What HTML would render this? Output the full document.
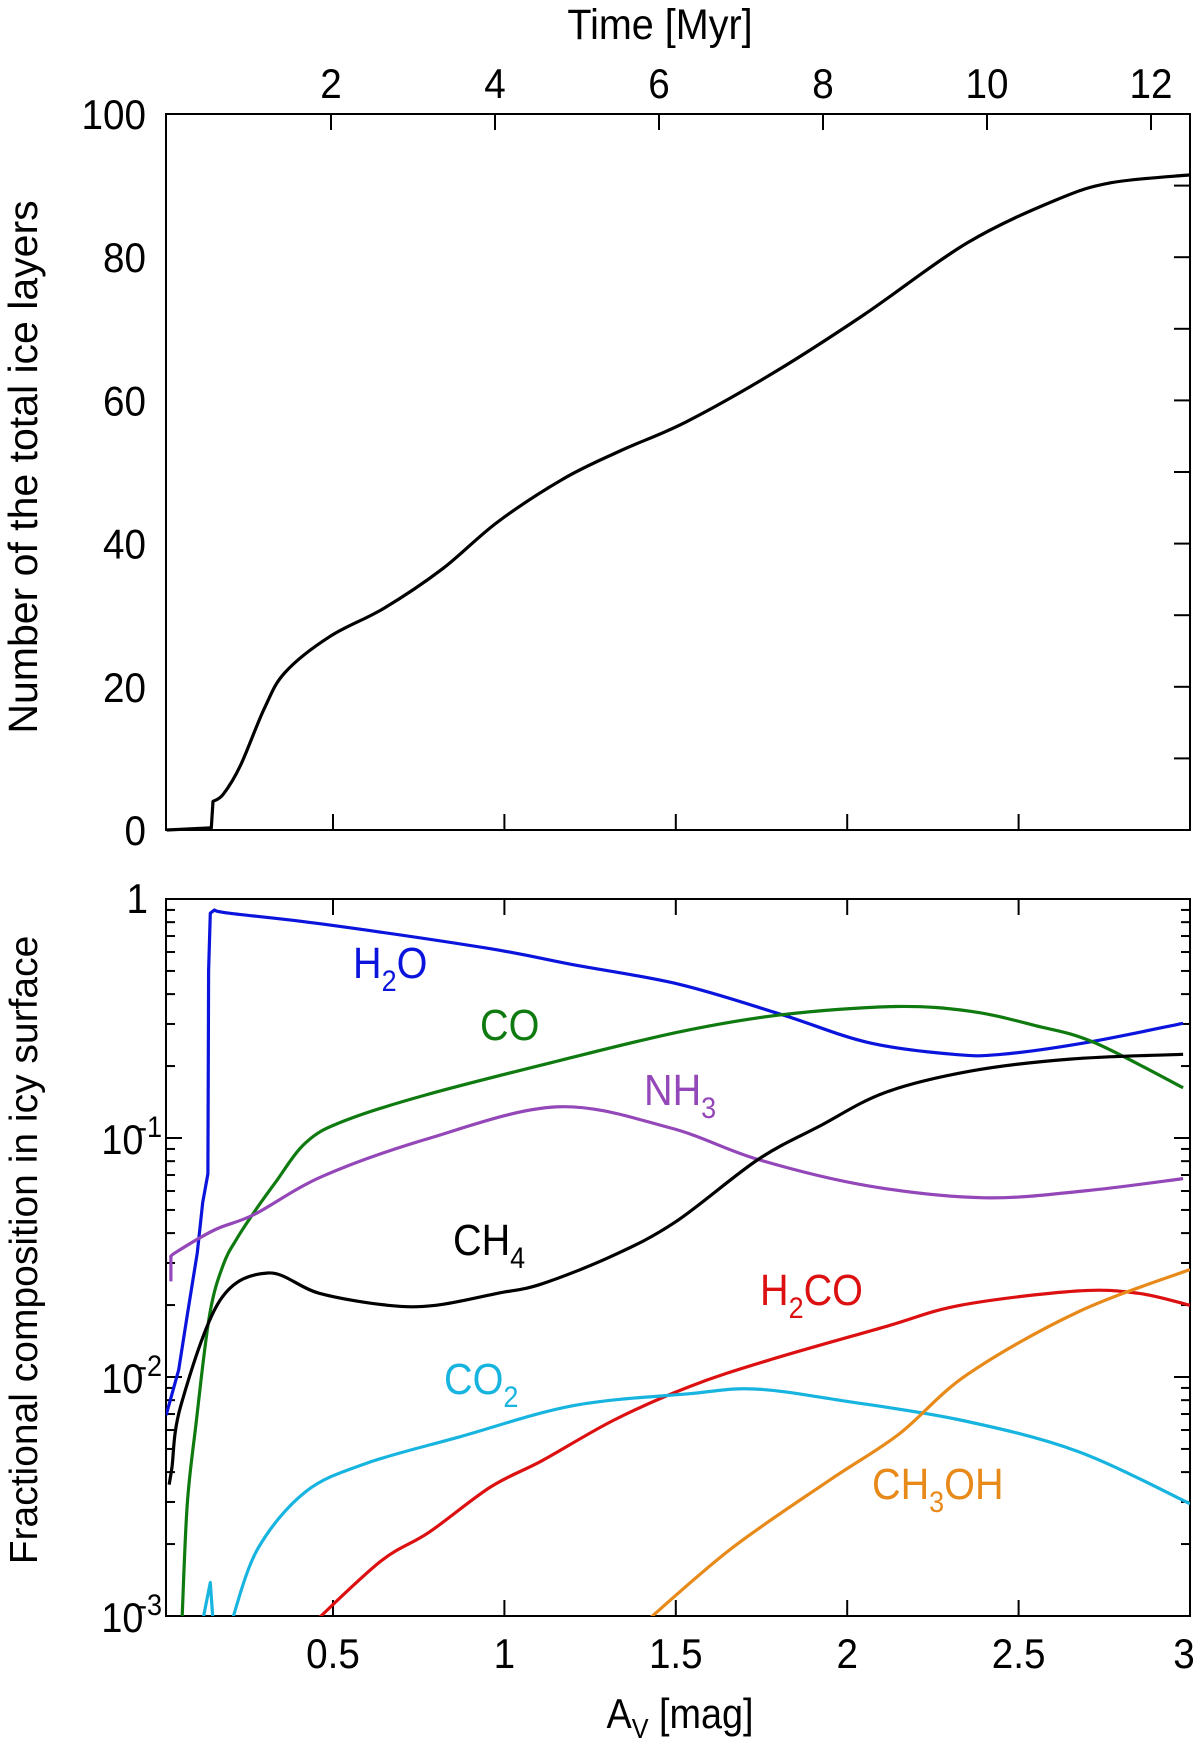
<!DOCTYPE html>
<html><head><meta charset="utf-8"><style>
html,body{margin:0;padding:0;background:#fff;}
svg{display:block;}
text{font-family:"Liberation Sans",Arial,sans-serif;}
</style></head><body>
<svg id="chart" width="1200" height="1746" viewBox="0 0 1200 1746" xmlns="http://www.w3.org/2000/svg">
<g id="topPanel"></g>
<g id="botPanel"></g>
</svg>
<script>
// ---- data: top panel (A_V vs number of layers) ----
const layersAv = [0.015,0.145,0.15,0.18,0.23,0.3,0.36,0.49,0.65,0.82,0.98,1.17,1.34,1.53,1.79,2.05,2.35,2.61,2.77,3.0];
const layersVal = [0,0.3,4,5,9,17,22,27,31,36.5,43,49,53,57,64,72,82,88,90.4,91.5];
const layerTicks = [0,20,40,60,80,100];
const timeTicks = [2,4,6,8,10,12];
const avTicks = [0.5,1,1.5,2,2.5,3];
// ---- data: bottom panel (log10 fractional composition) ----
const h2oAv = [0.013,0.05,0.075,0.104,0.12,0.135,0.137,0.142,0.154,0.2,0.47,0.95,1.2,1.51,1.81,2.06,2.31,2.45,2.7,2.98];
const h2oLog = [-2.16,-1.97,-1.74,-1.48,-1.27,-1.15,-0.3,-0.06,-0.046,-0.06,-0.105,-0.206,-0.275,-0.357,-0.484,-0.6,-0.65,-0.65,-0.6,-0.52];
const coAv = [0.06,0.075,0.1,0.14,0.18,0.22,0.27,0.33,0.42,0.53,0.77,1.15,1.51,1.81,2.14,2.36,2.55,2.72,2.98];
const coLog = [-3,-2.53,-2.2,-1.74,-1.53,-1.42,-1.31,-1.19,-1.02,-0.93,-0.82,-0.68,-0.556,-0.484,-0.45,-0.47,-0.53,-0.6,-0.79];
const nh3Av = [0.027,0.027,0.04,0.154,0.27,0.47,0.77,1.15,1.48,1.74,2.06,2.4,2.7,2.98];
const nh3Log = [-1.6,-1.5,-1.48,-1.385,-1.32,-1.16,-1.006,-0.87,-0.956,-1.09,-1.2,-1.25,-1.22,-1.17];
const ch4Av = [0.022,0.03,0.056,0.17,0.31,0.46,0.66,0.8,0.98,1.11,1.32,1.5,1.74,1.92,2.11,2.36,2.65,2.98];
const ch4Log = [-2.45,-2.38,-2.12,-1.68,-1.565,-1.65,-1.70,-1.70,-1.65,-1.61,-1.49,-1.35,-1.09,-0.95,-0.81,-0.72,-0.67,-0.65];
const h2coAv = [0.45,0.64,0.78,0.96,1.11,1.32,1.54,1.77,2.11,2.33,2.67,2.85,3.0];
const h2coLog = [-3.02,-2.77,-2.65,-2.46,-2.35,-2.18,-2.04,-1.93,-1.79,-1.70,-1.64,-1.65,-1.70];
const co2Av = [0.205,0.28,0.42,0.6,0.87,1.2,1.54,1.73,1.99,2.33,2.67,3.0];
const co2Log = [-3.02,-2.72,-2.48,-2.36,-2.25,-2.12,-2.07,-2.05,-2.10,-2.18,-2.31,-2.53];
const co2SpikeAv = [0.12,0.142,0.15];
const co2SpikeLog = [-3.02,-2.86,-3.02];
const ch3ohAv = [1.40,1.66,1.95,2.15,2.35,2.67,3.0];
const ch3ohLog = [-3.04,-2.72,-2.43,-2.24,-1.99,-1.73,-1.55];
const logTicks = [0,-1,-2,-3];

const NS='http://www.w3.org/2000/svg';
const L=166, R=1190;
const xA = a => 161.6 + 342.8*a;
const xT = t => 167 + 82*t;
const T0=114, T1=830;
const yL = v => T1 - (T1-T0)*v/100;
const B0=899, B1=1616;
const yG = lg => B0 + (B1-B0)*(-lg)/3;

function mk(parent, tag, attrs){const e=document.createElementNS(NS,tag);for(const k in attrs)e.setAttribute(k,attrs[k]);parent.appendChild(e);return e;}
function txt(parent,x,y,s,size,anchor,sx){
  const t=mk(parent,'text',{transform:`translate(${x},${y}) scale(${sx||0.92},1)`,'font-size':size,'text-anchor':anchor||'middle',fill:'#000'});
  t.textContent=s;return t;}
function tsp(parent,s,attrs){const e=mk(parent,'tspan',attrs||{});e.textContent=s;return e;}
// smoothFrom: index from which Catmull-Rom smoothing applies (Infinity = straight lines)
function path(parent, xs, ys, fx, fy, color, w, smoothFrom){
  const P=xs.map((x,i)=>[fx(x),fy(ys[i])]);
  let d='M'+P[0][0].toFixed(1)+','+P[0][1].toFixed(1);
  for(let i=0;i<P.length-1;i++){
    if(i<smoothFrom){d+='L'+P[i+1][0].toFixed(1)+','+P[i+1][1].toFixed(1);continue;}
    const p0=(i-1>=smoothFrom?P[i-1]:P[i]),p1=P[i],p2=P[i+1],p3=P[i+2]||P[i+1],k=1/6;
    const c1=[p1[0]+(p2[0]-p0[0])*k,p1[1]+(p2[1]-p0[1])*k];
    const c2=[p2[0]-(p3[0]-p1[0])*k,p2[1]-(p3[1]-p1[1])*k];
    d+='C'+c1[0].toFixed(1)+','+c1[1].toFixed(1)+' '+c2[0].toFixed(1)+','+c2[1].toFixed(1)+' '+p2[0].toFixed(1)+','+p2[1].toFixed(1);
  }
  return mk(parent,'path',{d:d,fill:'none',stroke:color,'stroke-width':w||3,'stroke-linejoin':'round'});
}
const topG=document.getElementById('topPanel'), botG=document.getElementById('botPanel');

// top frame
const tf=mk(topG,'rect',{x:L,y:T0,width:R-L,height:T1-T0,fill:'none',stroke:'#000','stroke-width':2});


for(let v=10;v<100;v+=10){
  mk(topG,'line',{x1:R,x2:R-16,y1:yL(v),y2:yL(v),stroke:'#000','stroke-width':2});}
layerTicks.forEach(v=>{const t=txt(topG,146,yL(v)+15,String(v),42,'end');
  
  });
avTicks.slice(0,5).forEach(a=>{mk(topG,'line',{x1:xA(a),x2:xA(a),y1:T1,y2:T1-16,stroke:'#000','stroke-width':2});});
timeTicks.forEach(t=>{mk(topG,'line',{x1:xT(t),x2:xT(t),y1:T0,y2:T0+16,stroke:'#000','stroke-width':2});
  const l=txt(topG,xT(t),98,String(t),42,'middle');
  
  });
let tt=txt(topG,660,39,'Time [Myr]',43,'middle');


let yt=mk(topG,'text',{transform:'translate(37,467) rotate(-90)','font-size':41,'text-anchor':'middle'});
yt.textContent='Number of the total ice layers';


const lp=path(topG,layersAv,layersVal,xA,yL,'#000',3.2,2);



// bottom frame
const bf=mk(botG,'rect',{x:L,y:B0,width:R-L,height:B1-B0,fill:'none',stroke:'#000','stroke-width':2});


for(let dec=-3;dec<0;dec++){for(let m=1;m<10;m++){const lg=dec+Math.log10(m);const len=m===1?16:9;
  mk(botG,'line',{x1:L,x2:L+len,y1:yG(lg),y2:yG(lg),stroke:'#000','stroke-width':2});
  mk(botG,'line',{x1:R,x2:R-len,y1:yG(lg),y2:yG(lg),stroke:'#000','stroke-width':2});}}
avTicks.forEach(a=>{
  mk(botG,'line',{x1:xA(a),x2:xA(a),y1:B1,y2:B1-16,stroke:'#000','stroke-width':2});
  mk(botG,'line',{x1:xA(a),x2:xA(a),y1:B0,y2:B0+16,stroke:'#000','stroke-width':2});
  const l=txt(botG,xA(a)-(a===3?6:0),1668,String(a),42,'middle');
  
  });
logTicks.forEach(lg=>{
  let t;
  if(lg===0){t=txt(botG,148,yG(0)+14,'1',42,'end');}
  else{t=mk(botG,'text',{transform:`translate(162,${yG(lg)+16}) scale(0.9,1)`,'font-size':42,'text-anchor':'end'});
    tsp(t,'10');
    tsp(t,'-'+(-lg),{'font-size':30,dy:-17,dx:-6});}
  
  });
let xt=mk(botG,'text',{transform:'translate(680,1728) scale(0.9,1)','font-size':42,'text-anchor':'middle'});
tsp(xt,'A');
tsp(xt,'V',{'font-size':28,dy:10});
tsp(xt,' [mag]',{dy:-10});


let yb=mk(botG,'text',{transform:'translate(37,1250) rotate(-90)','font-size':39,'text-anchor':'middle'});
yb.textContent='Fractional composition in icy surface';



const clip=mk(botG,'clipPath',{id:'bc'});mk(clip,'rect',{x:L,y:B0,width:R-L,height:B1-B0});
const g=mk(botG,'g',{'clip-path':'url(#bc)'});
const series=[
 ['h2o-line',h2oAv,h2oLog,'#0a14dc',8],['co-line',coAv,coLog,'#0f7a0f',0],['nh3-line',nh3Av,nh3Log,'#9447b8',1],
 ['ch4-line',ch4Av,ch4Log,'#000',0],['h2co-line',h2coAv,h2coLog,'#dc1010',0],['co2-line',co2Av,co2Log,'#18b4e0',0],
 ['co2-spike',co2SpikeAv,co2SpikeLog,'#18b4e0',Infinity],['ch3oh-line',ch3ohAv,ch3ohLog,'#e88a1a',0]];
series.forEach(s=>{const p=path(g,s[1],s[2],xA,yG,s[3],3.2,s[4]);
  
  });

const labels=[['h2o-label',353,978,'H','2','O','#0a14dc'],['co-label',480,1040,'CO','','','#0f7a0f'],
 ['nh3-label',644,1105,'NH','3','','#9447b8'],['ch4-label',453,1255,'CH','4','','#000'],
 ['h2co-label',760,1305,'H','2','CO','#dc1010'],['co2-label',444,1394,'CO','2','','#18b4e0'],
 ['ch3oh-label',872,1499,'CH','3','OH','#e88a1a']];
labels.forEach(l=>{const t=mk(botG,'text',{transform:`translate(${l[1]},${l[2]}) scale(0.9,1)`,'font-size':44,fill:l[6]});
  tsp(t,l[3]);
  if(l[4]){tsp(t,l[4],{'font-size':30,dy:13});tsp(t,l[5]||'\u200b',{dy:-13});}
  
  });
</script>
</body></html>
